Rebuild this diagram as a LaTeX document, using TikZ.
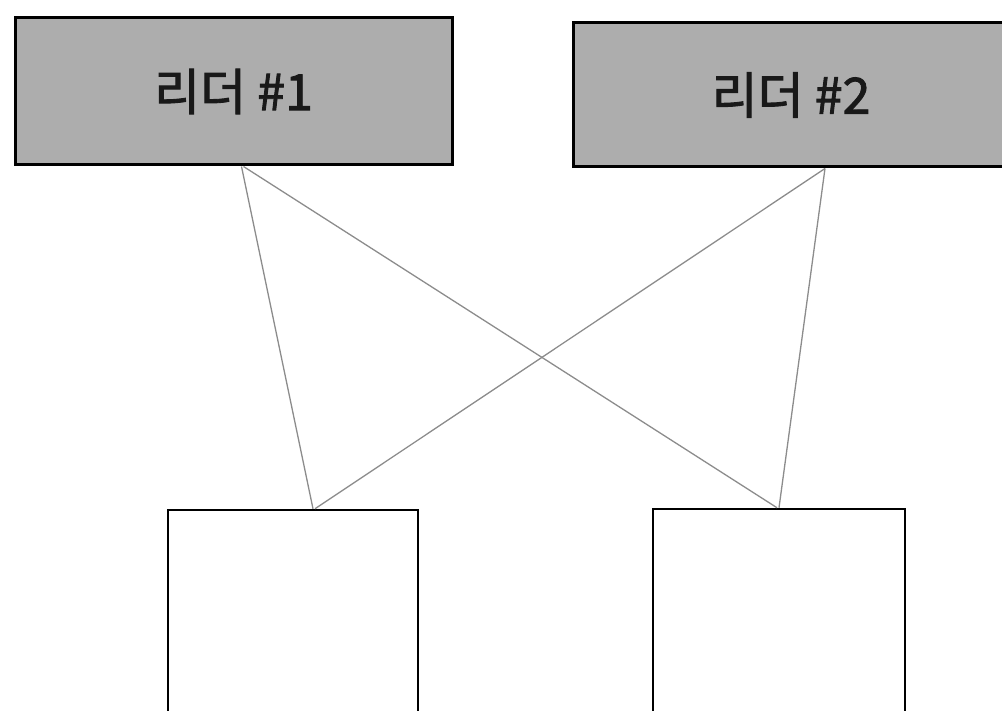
\documentclass[tikz,border=0pt]{standalone}
\usepackage{fontspec}
\newfontfamily\kor[FakeBold=1.8]{Noto Sans CJK KR}
\begin{document}
\begin{tikzpicture}[x=1pt,y=-1pt,
  leaderbox/.style={draw=black, line width=3pt, fill=black!32, inner sep=0pt,
    font=\kor\fontsize{50}{54}\selectfont, text=black!90},
  memberbox/.style={draw=black, line width=2.5pt, fill=white, inner sep=0pt},
  link/.style={draw=black!45, line width=1.3pt}]
\useasboundingbox (0,0) rectangle (1002,711);
\node[leaderbox, minimum width=437pt, minimum height=147pt] (l1) at (233.5,91.5) {\raisebox{3pt}{리더 \#1}};
\node[leaderbox, minimum width=436pt, minimum height=144pt] (l2) at (791,95) {\raisebox{3pt}{리더 \#2}};
\node[memberbox, minimum width=250pt, minimum height=240pt] (m1) at (293,630) {};
\node[memberbox, minimum width=252pt, minimum height=240pt] (m2) at (779,629) {};
\draw[link] ([xshift=8pt]l1.south) -- ([xshift=20pt]m1.north);
\draw[link] ([xshift=10pt]l1.south) -- ([xshift=-2pt]m2.north);
\draw[link] ([xshift=34pt]l2.south) -- ([xshift=22pt]m1.north);
\draw[link] ([xshift=34pt]l2.south) -- ([xshift=0pt]m2.north);
\end{tikzpicture}
\end{document}
